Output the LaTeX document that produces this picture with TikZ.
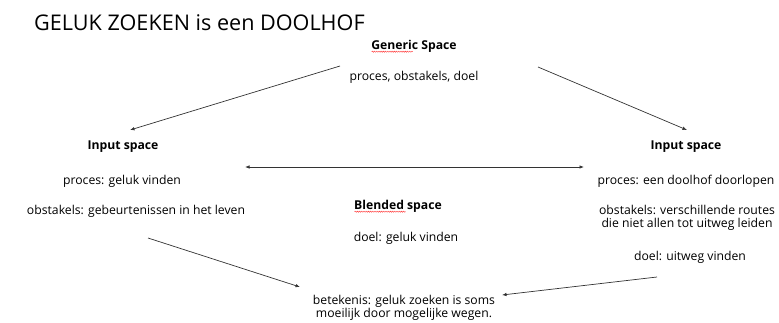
\documentclass[tikz,border=0pt]{standalone}
\usepackage{fontspec}
\setmainfont{Open Sans}
\usetikzlibrary{arrows.meta,decorations.pathmorphing}

\tikzset{
  txt/.style={font=\fontsize{12.2}{13.6}\selectfont, align=center, inner sep=0pt},
  head/.style={txt, font=\fontsize{12.2}{13.6}\selectfont\bfseries},
  link/.style={line width=0.7pt, draw=black!80, -{Latex[length=4.5pt,width=3.5pt]}},
  spell/.style={draw=red!80, line width=0.4pt, decorate,
    decoration={snake, amplitude=0.6pt, segment length=2.2pt}}
}

\begin{document}
\begin{tikzpicture}[x=1pt,y=-1pt]
  \useasboundingbox (0,0) rectangle (779,322);

  % Title
  \node [inner sep=0pt, anchor=west, font=\fontsize{21.6}{26}\selectfont] (title) at (34,23) {GELUK ZOEKEN is een DOOLHOF};

  % Generic space
  \node [head] (generic) at (414,46) {Generic Space};
  \node [txt] (genericl) at (414,77) {proces, obstakels, doel};

  % Input space (left)
  \node [head] (inleft) at (123,147) {Input space};
  \node [txt] (inleftp) at (122,181) {proces: geluk vinden};
  \node [txt] (inlefto) at (136,211) {obstakels: gebeurtenissen in het leven};

  % Input space (right)
  \node [head] (inright) at (686,147) {Input space};
  \node [txt] (inrightp) at (686,181) {proces: een doolhof doorlopen};
  \node [txt] (inrighto) at (687,218) {obstakels: verschillende routes\\die niet allen tot uitweg leiden};
  \node [txt] (inrightd) at (690,257) {doel: uitweg vinden};

  % Blended space
  \node [head] (blend) at (398,206) {Blended space};
  \node [txt] (blendd) at (406,238) {doel: geluk vinden};
  \node [txt] (blendb) at (404,308) {betekenis: geluk zoeken is soms\\moeilijk door mogelijke wegen.};

  % Spelling marks
  \draw [spell] ([xshift=0.5pt,yshift=-2.5pt]generic.base west) -- ++(41,0);
  \draw [spell] ([xshift=0.5pt,yshift=-2.5pt]blend.base west) -- ++(51,0);

  % Connector ends
  \coordinate (g1) at (340,66);
  \coordinate (g2) at (130,130);
  \coordinate (g3) at (538,67);
  \coordinate (g4) at (687,130);
  \coordinate (m1) at (245,167);
  \coordinate (m2) at (584,167);
  \coordinate (b1) at (148,238);
  \coordinate (b2) at (300,287);
  \coordinate (b3) at (657,277);
  \coordinate (b4) at (502,295);

  \draw [link] (g1) -- (g2);
  \draw [link] (g3) -- (g4);
  \draw [link, {Latex[length=4.5pt,width=3.5pt]}-{Latex[length=4.5pt,width=3.5pt]}] (m1) -- (m2);
  \draw [link] (b1) -- (b2);
  \draw [link] (b3) -- (b4);
\end{tikzpicture}
\end{document}
